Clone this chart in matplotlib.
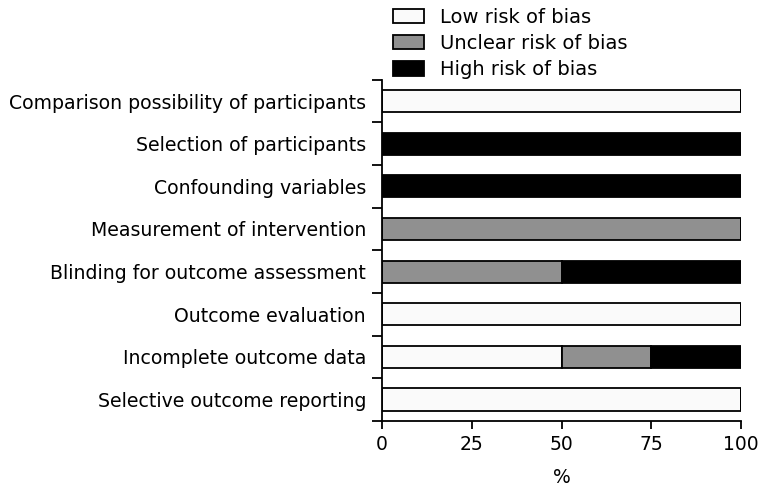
import matplotlib.pyplot as plt
import numpy as np
from matplotlib.patches import Patch

categories = [
    'Comparison possibility of participants',
    'Selection of participants',
    'Confounding variables',
    'Measurement of intervention',
    'Blinding for outcome assessment',
    'Outcome evaluation',
    'Incomplete outcome data',
    'Selective outcome reporting',
]
low = [100, 0, 0, 0, 0, 100, 50, 100]
unclear = [0, 0, 0, 100, 50, 0, 25, 0]
high = [0, 100, 100, 0, 50, 0, 25, 0]

series_names = ['Low risk of bias', 'Unclear risk of bias', 'High risk of bias']
colors = ['#fafafa', '#909090', '#000000']

plt.rcParams['font.family'] = ['DejaVu Sans']

fig = plt.figure(figsize=(7.58, 4.86), dpi=100)
ax = fig.add_axes([0.504, 0.134, 0.4736, 0.702])

y = np.arange(len(categories))
left = np.zeros(len(categories))
for vals, col in zip([low, unclear, high], colors):
    vals = np.array(vals, dtype=float)
    ax.barh(y, vals, left=left, height=0.52, color=col, edgecolor='black', linewidth=1.3)
    left += vals

ax.set_ylim(len(categories) - 0.5, -0.5)
ax.set_xlim(0, 100)
ax.set_yticks(y)
ax.set_yticklabels(categories, fontsize=13.6)
ax.tick_params(axis='y', length=0, pad=11.5)
ax.set_yticks(np.arange(-0.5, len(categories)), minor=True)
ax.tick_params(axis='y', which='minor', length=7, width=1.3)
ax.set_xticks([0, 25, 50, 75, 100])
ax.tick_params(axis='x', labelsize=13.5, length=6, width=1.3, pad=4)
ax.set_xlabel('%', fontsize=13.5, labelpad=10)

for side in ['top', 'right']:
    ax.spines[side].set_visible(False)
for side in ['left', 'bottom']:
    ax.spines[side].set_linewidth(1.3)

handles = [Patch(facecolor=c, edgecolor='black', linewidth=1.3) for c in colors]
fig.legend(handles, series_names, loc='upper left', bbox_to_anchor=(0.496, 1.02),
           frameon=False, fontsize=14, handlelength=1.55, handleheight=0.75,
           labelspacing=0.37, handletextpad=0.85)

fig.savefig('out.png', dpi=100)
